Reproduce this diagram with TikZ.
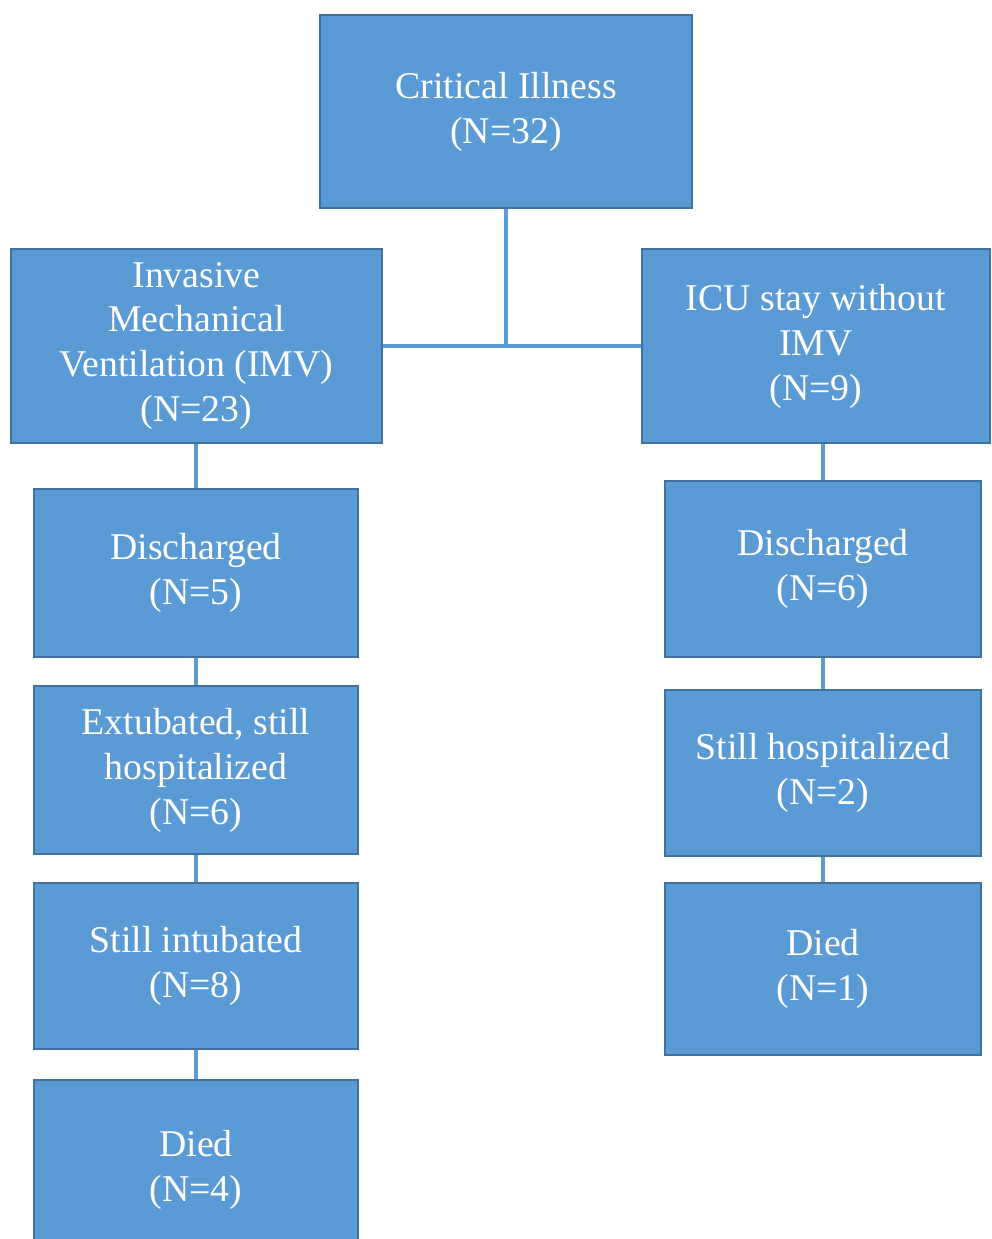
\documentclass[tikz,border=0pt]{standalone}
\usepackage{fontspec}
\setmainfont{Liberation Serif}
\usetikzlibrary{positioning}
\definecolor{boxblue}{HTML}{5B9BD5}
\definecolor{boxedge}{HTML}{41719C}

\begin{document}
\begin{tikzpicture}[x=0.02cm,y=-0.02cm]
\tikzstyle{block}=[rectangle, draw=boxedge, fill=boxblue, line width=0.9pt,
	text=white, align=center, inner sep=0pt,
	font=\fontsize{21.5}{25.6}\selectfont,
]
\tikzstyle{link}=[draw=boxblue, line width=2.1pt]
\useasboundingbox (0,0) rectangle (991,1239);
\clip (0,0) rectangle (991,1239);
\node[block,minimum width=7.44cm,minimum height=3.86cm] (crit) at (506,111.5) {Critical Illness\\(N=32)};
\node[block,minimum width=7.42cm,minimum height=3.88cm] (imv) at (196.5,346) {Invasive\\Mechanical\\Ventilation (IMV)\\(N=23)};
\node[block,minimum width=6.96cm,minimum height=3.88cm] (icu) at (816,346) {ICU stay without\\IMV\\(N=9)};
\node[block,minimum width=6.48cm,minimum height=3.36cm] (dis1) at (196,573) {Discharged\\(N=5)};
\node[block,minimum width=6.48cm,minimum height=3.36cm] (ext) at (196,770) {Extubated, still\\hospitalized\\(N=6)};
\node[block,minimum width=6.48cm,minimum height=3.32cm] (intub) at (196,966) {Still intubated\\(N=8)};
\node[block,minimum width=6.48cm,minimum height=3.6cm] (died1) at (196,1170) {Died\\(N=4)};
\node[block,minimum width=6.32cm,minimum height=3.52cm] (dis2) at (823,569) {Discharged\\(N=6)};
\node[block,minimum width=6.32cm,minimum height=3.32cm] (hosp) at (823,773) {Still hospitalized\\(N=2)};
\node[block,minimum width=6.32cm,minimum height=3.44cm] (died2) at (823,969) {Died\\(N=1)};
\coordinate (split) at (crit.south |- imv.east);
\draw[link] (crit) -- (split);
\draw[link] (imv) -- (icu);
\draw[link] (dis1.north) -- (dis1.north |- imv.south);
\draw[link] (dis1) -- (ext);
\draw[link] (ext) -- (intub);
\draw[link] (intub) -- (died1);
\draw[link] (dis2.north) -- (dis2.north |- icu.south);
\draw[link] (dis2) -- (hosp);
\draw[link] (hosp) -- (died2);
\end{tikzpicture}
\end{document}
